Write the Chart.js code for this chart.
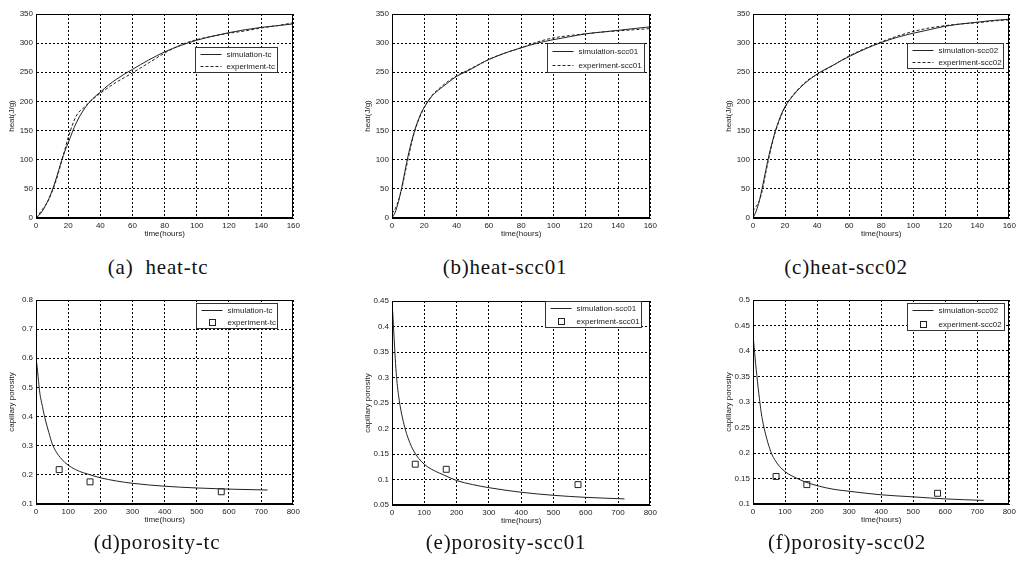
<!DOCTYPE html>
<html>
<head>
<meta charset="utf-8">
<script src="https://cdn.jsdelivr.net/npm/chart.js@4"></script>
<style>
  body { margin: 0; background: #fff; width: 1021px; height: 562px; position: relative; overflow: hidden; }
  canvas { position: absolute; }
  .cap { position: absolute; font-family: "Liberation Serif", "DejaVu Serif", serif; font-size: 21px; letter-spacing: 0.8px; color: #111; white-space: pre; transform: translate(-50%, -50%); }
</style>
</head>
<body>
<div id="wrap"></div>
<script>
// heat of hydration, time in hours
const heatTime = [0, 2, 4, 6, 8, 10, 12, 14, 16, 18, 20, 25, 30, 35, 40, 45, 50, 55, 60, 70, 80, 90, 100, 110, 120, 130, 140, 150, 160];
const simTc    = [0, 5, 12, 22, 33, 47, 63, 81, 99, 115, 129, 163, 187, 204, 216, 228, 238, 247, 255, 271, 285, 296, 305, 312, 318, 323, 327, 330, 333];
const expTc    = [0, 7, 15, 22, 32, 45, 60, 78, 98, 118, 138, 175, 190, 203, 214, 224, 233, 241, 249, 266, 283, 297, 306, 312, 317, 321, 326, 330, 335];
const simScc01 = [0, 10, 28, 52, 80, 107, 130, 150, 166, 180, 190, 210, 222, 233, 243, 250, 257, 265, 272, 283, 292, 300, 306, 311, 316, 319, 322, 325, 328];
const expScc01 = [8, 16, 30, 50, 76, 102, 127, 148, 165, 178, 190, 211, 224, 235, 244, 251, 258, 265, 272, 283, 292, 302, 309, 313, 316, 319, 321, 323, 325];
const simScc02 = [0, 12, 30, 55, 82, 108, 130, 150, 166, 180, 191, 210, 225, 237, 247, 255, 262, 270, 277, 290, 301, 310, 317, 323, 329, 333, 336, 339, 341];
const expScc02 = [12, 20, 30, 50, 78, 104, 128, 148, 164, 178, 190, 211, 226, 238, 246, 254, 262, 270, 278, 291, 302, 312, 320, 326, 330, 333, 335, 338, 340];

// capillary porosity, time in hours
const porTime     = [0, 2, 5, 8, 12, 16, 20, 25, 30, 40, 50, 60, 75, 90, 110, 135, 160, 200, 250, 300, 400, 500, 600, 720];
const porSimTc    = [0.598, 0.585, 0.555, 0.52, 0.48, 0.455, 0.435, 0.408, 0.385, 0.345, 0.308, 0.284, 0.26, 0.242, 0.226, 0.212, 0.203, 0.19, 0.179, 0.171, 0.161, 0.155, 0.151, 0.148];
const porSimScc01 = [0.44, 0.43, 0.395, 0.36, 0.318, 0.288, 0.266, 0.245, 0.228, 0.201, 0.181, 0.165, 0.148, 0.136, 0.125, 0.116, 0.109, 0.098, 0.09, 0.084, 0.075, 0.069, 0.065, 0.062];
const porSimScc02 = [0.432, 0.418, 0.397, 0.376, 0.352, 0.328, 0.307, 0.282, 0.263, 0.235, 0.213, 0.196, 0.18, 0.169, 0.159, 0.151, 0.144, 0.136, 0.129, 0.125, 0.118, 0.114, 0.11, 0.107];
const expTime     = [72, 168, 576];
const porExpTc    = [0.218, 0.176, 0.142];
const porExpScc01 = [0.13, 0.12, 0.09];
const porExpScc02 = [0.154, 0.138, 0.121];

const captions = ['(a)  heat-tc', '(b)heat-scc01', '(c)heat-scc02', '(d)porosity-tc', '(e)porosity-scc01', '(f)porosity-scc02'];

const INK = '#222';
const toPoints = (xs, ys) => xs.map((x, i) => ({ x: x, y: ys[i] }));

// draws the top/right frame lines and the boxed legend inside the plot
const framePlugin = {
    id: 'frame',
    afterDraw(chart) {
        const { ctx, chartArea: a } = chart;
        const l = Math.round(a.left) + 0.5, r = Math.round(a.right) - 0.5;
        const t = Math.round(a.top) + 0.5, b = Math.round(a.bottom) - 0.5;
        ctx.save();
        ctx.strokeStyle = '#000';
        ctx.lineWidth = 1;
        ctx.strokeRect(l, t, r - l, b - t);

        const lg = chart.options.plugins.frame;
        const bx = Math.round(a.right - lg.right - lg.w) + 0.5;
        const by = Math.round(a.top + lg.top) + 0.5;
        ctx.fillStyle = '#fff';
        ctx.fillRect(bx, by, lg.w, lg.h);
        ctx.strokeStyle = '#333';
        ctx.strokeRect(bx, by, lg.w, lg.h);
        ctx.font = '8px "Liberation Sans", Arial, sans-serif';
        ctx.textBaseline = 'middle';
        chart.data.datasets.forEach((ds, i) => {
            const y = Math.round(by + lg.h / 4 + i * lg.h / 2) + 0.5;
            ctx.strokeStyle = INK;
            if (ds.showLine === false) {
                ctx.setLineDash([]);
                ctx.strokeRect(bx + 13, y - 3, 6, 6);
            } else {
                ctx.setLineDash(ds.borderDash || []);
                ctx.beginPath();
                ctx.moveTo(bx + 5, y);
                ctx.lineTo(bx + 26, y);
                ctx.stroke();
            }
            ctx.setLineDash([]);
            ctx.fillStyle = '#222';
            ctx.fillText(ds.label, bx + 31, y);
        });
        ctx.restore();
    }
};

function lineSet(label, xs, ys, dashed) {
    return {
        label: label,
        data: toPoints(xs, ys),
        borderColor: INK,
        borderWidth: 1,
        borderDash: dashed ? [3, 2] : [],
        pointRadius: 0,
        fill: false,
        cubicInterpolationMode: 'monotone'
    };
}

function squareSet(label, xs, ys) {
    return {
        label: label,
        data: toPoints(xs, ys),
        showLine: false,
        pointStyle: 'rect',
        pointRadius: 4.2,
        borderColor: INK,
        borderWidth: 1,
        backgroundColor: 'rgba(0,0,0,0)'
    };
}

const tickFont = { family: '"Liberation Sans", Arial, sans-serif', size: 8 };

function axis(min, max, step, title, isX) {
    return {
        type: 'linear',
        min: min,
        max: max,
        ticks: {
            stepSize: step, color: '#222', font: tickFont, padding: 3, autoSkip: false, maxRotation: 0,
            // matlab style labels: 0.1, 0.15 (no trailing zeros)
            callback: (v) => String(parseFloat(Number(v).toFixed(4)))
        },
        grid: { color: '#000', lineWidth: 1, drawTicks: false },
        border: { display: true, color: '#000', width: 1, dash: [2, 2] },
        title: { display: true, text: title, color: '#222', font: tickFont, padding: isX ? { top: 0, bottom: 5 } : { top: 7, bottom: 0 } },
        afterFit: isX ? (s) => { s.height = 26; } : (s) => { s.width = 36; }
    };
}

// plot box (left, top, right, bottom) in page pixels, legend box relative to the plot
const panels = [
    { box: [36, 14, 295, 218], x: [0, 160, 20], y: [0, 350, 50], yTitle: 'heat(J/g)', legend: { w: 82, h: 25, right: 16, top: 33 },
      sets: [lineSet('simulation-tc', heatTime, simTc, false), lineSet('experiment-tc', heatTime, expTc, true)], cap: [158, 267] },
    { box: [392, 14, 652, 218], x: [0, 160, 20], y: [0, 350, 50], yTitle: 'heat(J/g)', legend: { w: 97, h: 29, right: 6, top: 29 },
      sets: [lineSet('simulation-scc01', heatTime, simScc01, false), lineSet('experiment-scc01', heatTime, expScc01, true)], cap: [505, 267] },
    { box: [753, 14, 1011, 218], x: [0, 160, 20], y: [0, 350, 50], yTitle: 'heat(J/g)', legend: { w: 96, h: 25, right: 6, top: 29 },
      sets: [lineSet('simulation-scc02', heatTime, simScc02, false), lineSet('experiment-scc02', heatTime, expScc02, true)], cap: [846, 267] },
    { box: [36, 300, 295, 504], x: [0, 800, 100], y: [0.1, 0.8, 0.1], yTitle: 'capillary porosity', legend: { w: 81, h: 25, right: 16, top: 3 },
      sets: [lineSet('simulation-tc', porTime, porSimTc, false), squareSet('experiment-tc', expTime, porExpTc)], cap: [157, 542] },
    { box: [392, 301, 652, 505], x: [0, 800, 100], y: [0.05, 0.45, 0.05], yTitle: 'capillary porosity', legend: { w: 96, h: 26, right: 9, top: 0 },
      sets: [lineSet('simulation-scc01', porTime, porSimScc01, false), squareSet('experiment-scc01', expTime, porExpScc01)], cap: [506, 542] },
    { box: [753, 300, 1011, 504], x: [0, 800, 100], y: [0.1, 0.5, 0.05], yTitle: 'capillary porosity', legend: { w: 97, h: 27, right: 5, top: 3 },
      sets: [lineSet('simulation-scc02', porTime, porSimScc02, false), squareSet('experiment-scc02', expTime, porExpScc02)], cap: [847, 542] }
];

const wrap = document.getElementById('wrap');

panels.forEach((p, i) => {
    const [l, t, r, b] = p.box;
    const cv = document.createElement('canvas');
    const w = r - l + 36 + 8, h = b - t + 8 + 26;
    cv.width = w; cv.height = h;
    cv.style.left = (l - 36) + 'px';
    cv.style.top = (t - 8) + 'px';
    cv.style.width = w + 'px';
    cv.style.height = h + 'px';
    wrap.appendChild(cv);

    new Chart(cv.getContext('2d'), {
        type: 'line',
        data: { datasets: p.sets },
        options: {
            responsive: false,
            animation: false,
            devicePixelRatio: 1,
            layout: { padding: { top: 8, right: 8, left: 0, bottom: 0 } },
            scales: {
                x: axis(p.x[0], p.x[1], p.x[2], 'time(hours)', true),
                y: axis(p.y[0], p.y[1], p.y[2], p.yTitle, false)
            },
            plugins: {
                legend: { display: false },
                tooltip: { enabled: false },
                frame: p.legend
            }
        },
        plugins: [framePlugin]
    });

    const cap = document.createElement('div');
    cap.className = 'cap';
    cap.textContent = captions[i];
    cap.style.left = p.cap[0] + 'px';
    cap.style.top = p.cap[1] + 'px';
    wrap.appendChild(cap);
});
</script>
</body>
</html>
